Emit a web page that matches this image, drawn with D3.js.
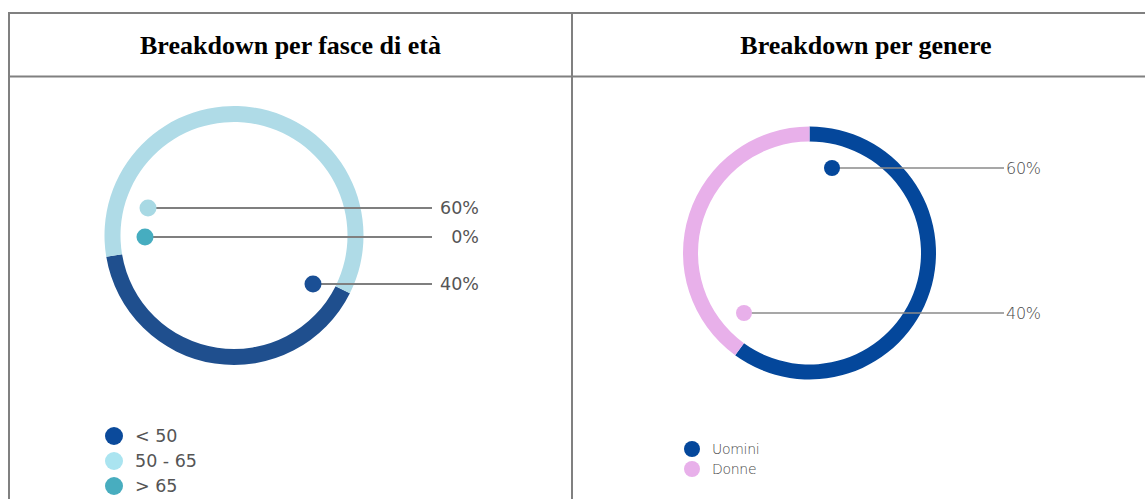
<!DOCTYPE html>
<html><head><meta charset="utf-8">
<script src="https://cdn.jsdelivr.net/npm/d3@7"></script>
<style>html,body{margin:0;padding:0;background:#fff;overflow:hidden}</style>
</head><body>
<svg id="c" width="1145" height="499"></svg>
<script>
// ---- data ----
const titles = ["Breakdown per fasce di età", "Breakdown per genere"];
const ageCategories = ["< 50", "50 - 65", "> 65"];
const ageValues = [40, 60, 0];
const ageLabels = ["40%", "60%", "0%"];
const genderCategories = ["Uomini", "Donne"];
const genderValues = [60, 40];
const genderLabels = ["60%", "40%"];

const ageRingColors = ["#1f4f8e", "#afdbe7", "#46aebf"];
const ageDotColors = ["#1a4f95", "#a8d9e4", "#46adc0"];
const ageLegendColors = ["#0b4a9b", "#aae4f0", "#48adbf"];
const genderColors = ["#04479b", "#e8b0ea"];

const svg = d3.select("#c");

// ---- table frame ----
const frame = svg.append("g").attr("stroke", "#808080").attr("stroke-width", 2).attr("fill", "none");
frame.append("line").attr("x1", 8).attr("x2", 1145).attr("y1", 13).attr("y2", 13);
frame.append("line").attr("x1", 8).attr("x2", 1145).attr("y1", 76.5).attr("y2", 76.5);
frame.append("line").attr("x1", 9).attr("x2", 9).attr("y1", 12).attr("y2", 499);
frame.append("line").attr("x1", 572).attr("x2", 572).attr("y1", 12).attr("y2", 499);

const titleX = [290.5, 866];
titles.forEach((t, i) => {
  svg.append("text").attr("x", titleX[i]).attr("y", 54)
    .attr("text-anchor", "middle")
    .attr("font-family", "'Liberation Serif','Times New Roman',serif")
    .attr("font-weight", "bold").attr("font-size", 26).attr("fill", "#000")
    .text(t);
});

const deg = Math.PI / 180;
const sans = "'DejaVu Sans','Noto Sans',sans-serif";

// ---- left: age ring ----
{
  const cx = 234, cy = 235.5, rOut = 129.5, rIn = 113.5;
  const start = 116.5 * deg;
  const pie = d3.pie().sort(null).value(d => d).startAngle(start).endAngle(start + 2 * Math.PI);
  const arc = d3.arc().innerRadius(rIn).outerRadius(rOut);
  const g = svg.append("g").attr("transform", `translate(${cx},${cy})`);
  g.selectAll("path").data(pie(ageValues)).join("path")
    .attr("d", arc).attr("fill", (d, i) => ageRingColors[i]);

  const dots = [[313, 284], [148, 208], [145, 237]];
  const lineEnd = 432, textX = 479;
  [1, 2, 0].forEach(i => {
    const [x, y] = dots[i];
    svg.append("line").attr("x1", x).attr("x2", lineEnd).attr("y1", y).attr("y2", y)
      .attr("stroke", "#7f7f7f").attr("stroke-width", 2);
    svg.append("circle").attr("cx", x).attr("cy", y).attr("r", 8.5).attr("fill", ageDotColors[i]);
    svg.append("text").attr("x", textX).attr("y", y).attr("dy", "0.36em")
      .attr("text-anchor", "end").attr("font-family", sans)
      .attr("font-size", 17.5).attr("fill", "#555").text(ageLabels[i]);
  });

  ageCategories.forEach((c, i) => {
    const y = 436 + i * 25;
    svg.append("circle").attr("cx", 114).attr("cy", y).attr("r", 9).attr("fill", ageLegendColors[i]);
    svg.append("text").attr("x", 135).attr("y", y).attr("dy", "0.36em")
      .attr("font-family", sans)
      .attr("font-size", 17.5).attr("fill", "#555").text(c);
  });
}

// ---- right: gender ring ----
{
  const cx = 809.5, cy = 253, rOut = 126.5, rIn = 111.5;
  const pie = d3.pie().sort(null).value(d => d).startAngle(0).endAngle(2 * Math.PI);
  const arc = d3.arc().innerRadius(rIn).outerRadius(rOut);
  const g = svg.append("g").attr("transform", `translate(${cx},${cy})`);
  g.selectAll("path").data(pie(genderValues)).join("path")
    .attr("d", arc).attr("fill", (d, i) => genderColors[i]);

  const dots = [[832, 168], [744, 313]];
  const lineEnd = 1004, textX = 1006;
  genderValues.forEach((v, i) => {
    const [x, y] = dots[i];
    svg.append("line").attr("x1", x).attr("x2", lineEnd).attr("y1", y).attr("y2", y)
      .attr("stroke", "#8a8a8a").attr("stroke-width", 1.6);
    svg.append("circle").attr("cx", x).attr("cy", y).attr("r", 8).attr("fill", genderColors[i]);
    svg.append("text").attr("x", textX).attr("y", y).attr("dy", "0.36em")
      .attr("font-family", sans).attr("font-weight", 200)
      .attr("font-size", 16).attr("letter-spacing", -0.3).attr("fill", "#4a4a4a").text(genderLabels[i]);
  });

  genderCategories.forEach((c, i) => {
    const y = 449 + i * 20;
    svg.append("circle").attr("cx", 692).attr("cy", y).attr("r", 8).attr("fill", genderColors[i]);
    svg.append("text").attr("x", 712).attr("y", y).attr("dy", "0.36em")
      .attr("font-family", sans).attr("font-weight", 200)
      .attr("font-size", 14).attr("letter-spacing", -0.3).attr("fill", "#4a4a4a").text(c);
  });
}
</script>
</body></html>
